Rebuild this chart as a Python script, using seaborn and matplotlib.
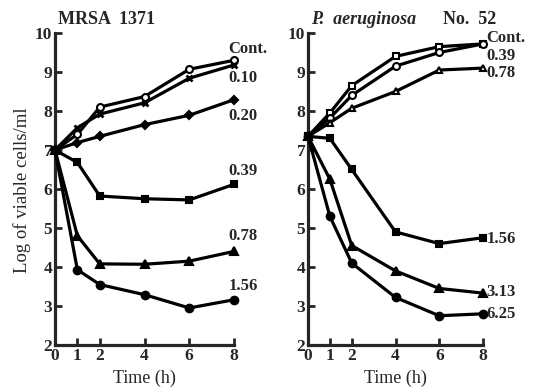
import matplotlib
matplotlib.use("Agg")
import matplotlib.pyplot as plt
import seaborn as sns
import pandas as pd

times = [0, 1, 2, 4, 6, 8]

# MRSA 1371
mrsa_labels = ["Cont.", "0.10", "0.20", "0.39", "0.78", "1.56"]
mrsa_cont = [7.0, 7.4, 8.1, 8.37, 9.07, 9.3]
mrsa_010 = [7.0, 7.57, 7.92, 8.21, 8.84, 9.18]
mrsa_020 = [7.0, 7.19, 7.35, 7.65, 7.89, 8.29]
mrsa_039 = [7.0, 6.68, 5.82, 5.75, 5.72, 6.12]
mrsa_078 = [7.0, 4.8, 4.08, 4.07, 4.15, 4.4]
mrsa_156 = [7.0, 3.93, 3.55, 3.29, 2.95, 3.16]

# P. aeruginosa No. 52
pa_labels = ["Cont.", "0.39", "0.78", "1.56", "3.13", "6.25"]
pa_cont = [7.35, 7.95, 8.65, 9.4, 9.65, 9.72]
pa_039 = [7.35, 7.82, 8.4, 9.15, 9.5, 9.72]
pa_078 = [7.35, 7.7, 8.07, 8.5, 9.05, 9.1]
pa_156 = [7.35, 7.3, 6.5, 4.9, 4.6, 4.75]
pa_313 = [7.35, 6.25, 4.55, 3.9, 3.45, 3.33]
pa_625 = [7.35, 5.3, 4.1, 3.22, 2.75, 2.8]

sns.set_style("ticks")
plt.rcParams['font.family'] = ['Liberation Serif', 'DejaVu Serif']

fig = plt.figure(figsize=(5.34, 3.90), dpi=100)
ax1 = fig.add_axes([55/534, 1-345/390, 179/534, 312/390])
ax2 = fig.add_axes([308/534, 1-345/390, 175/534, 312/390])

def make_df(labels, series):
    rows = []
    for lab, vals in zip(labels, series):
        for t, v in zip(times, vals):
            rows.append({"time": t, "value": v, "conc": lab})
    return pd.DataFrame(rows)

df1 = make_df(mrsa_labels, [mrsa_cont, mrsa_010, mrsa_020, mrsa_039, mrsa_078, mrsa_156])
df2 = make_df(pa_labels, [pa_cont, pa_039, pa_078, pa_156, pa_313, pa_625])

styles1 = {
    "Cont.": dict(marker="o", mfc="white", ms=5),
    "0.10": dict(marker="x", mfc="black", ms=5, mew=2),
    "0.20": dict(marker="D", mfc="black", ms=4.5),
    "0.39": dict(marker="s", mfc="black", ms=4.5),
    "0.78": dict(marker="^", mfc="black", ms=5.5),
    "1.56": dict(marker="o", mfc="black", ms=5.5),
}
styles2 = {
    "Cont.": dict(marker="s", mfc="white", ms=4.5),
    "0.39": dict(marker="o", mfc="white", ms=5),
    "0.78": dict(marker="^", mfc="white", ms=5),
    "1.56": dict(marker="s", mfc="black", ms=4.5),
    "3.13": dict(marker="^", mfc="black", ms=5.5),
    "6.25": dict(marker="o", mfc="black", ms=5.5),
}

def draw(ax, df, labels, styles):
    for lab in labels:
        st = styles[lab]
        sub = df[df["conc"] == lab]
        sns.lineplot(data=sub, x="time", y="value", ax=ax, color="black",
                     linewidth=2.3, marker=st["marker"], markersize=st["ms"],
                     markerfacecolor=st["mfc"], markeredgecolor="black",
                     markeredgewidth=st.get("mew", 1.5), clip_on=False,
                     zorder=3, legend=False)

draw(ax1, df1, mrsa_labels, styles1)
draw(ax2, df2, pa_labels, styles2)

for ax in (ax1, ax2):
    ax.set_xlim(0, 8)
    ax.set_ylim(2, 10)
    ax.set_xticks(times)
    ax.set_yticks(range(2, 11))
    ax.set_xticklabels([str(t) for t in times])
    ax.tick_params(direction="in", length=5, width=2, labelsize=12.5, pad=2)
    for lbl in ax.get_xticklabels() + ax.get_yticklabels():
        lbl.set_fontweight("bold")
    sns.despine(ax=ax)
    ax.spines["left"].set_linewidth(2.3)
    ax.spines["bottom"].set_linewidth(2.3)
    ax.set_xlabel("Time (h)", fontsize=13, labelpad=4)
    ax.set_ylabel("")

# line labels
lab_pos1 = {"Cont.": 9.6, "0.10": 8.85, "0.20": 7.87, "0.39": 6.45, "0.78": 4.8, "1.56": 3.5}
for lab, y in lab_pos1.items():
    ax1.text(7.75, y, lab, fontsize=12, fontweight="bold", va="center", ha="left",
             clip_on=False)
lab_pos2 = {"Cont.": 9.87, "0.39": 9.42, "0.78": 8.97, "1.56": 4.72, "3.13": 3.35, "6.25": 2.8}
for lab, y in lab_pos2.items():
    ax2.text(8.15, y, lab, fontsize=12, fontweight="bold", va="center", ha="left",
             clip_on=False)

fig.text(22/534, 1-190/390, "Log of viable cells/ml", rotation=90, fontsize=13.5,
         ha="center", va="center")
fig.text(58/534, 1-19/390, "MRSA  1371", fontsize=13, fontweight="bold",
         ha="left", va="center")
fig.text(311/534, 1-19/390, "P.  aeruginosa", fontsize=13, fontstyle="italic",
         fontweight="bold", ha="left", va="center")
fig.text(443/534, 1-19/390, "No.  52", fontsize=13, fontweight="bold",
         ha="left", va="center")

fig.savefig("out.png", dpi=100)
